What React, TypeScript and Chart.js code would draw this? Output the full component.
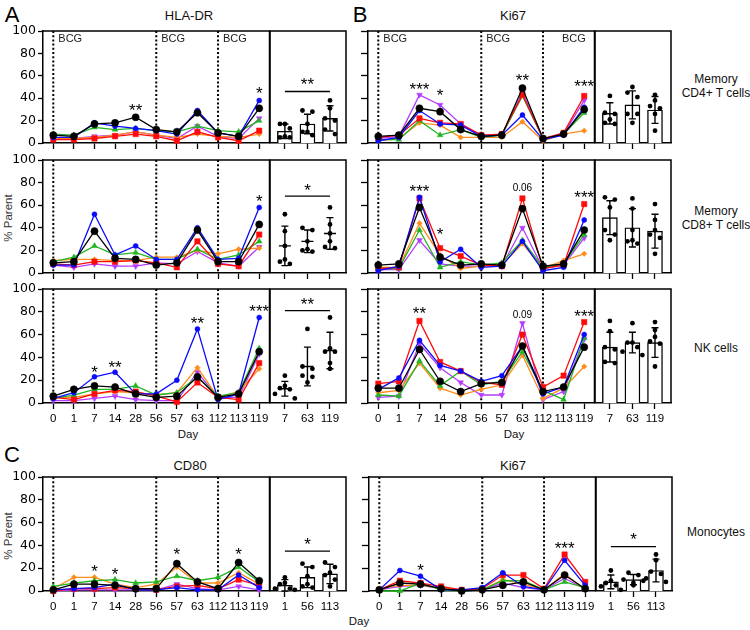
import React, { useEffect, useRef } from "react";
import { Chart, registerables } from "chart.js";
Chart.register(...registerables);

const FONT = '"Liberation Sans", Arial, Helvetica, sans-serif';
Chart.defaults.font.family = FONT;

// ---------- categories ----------
const DAYS = ["0", "1", "7", "14", "28", "56", "57", "63", "112", "113", "119"];
const BAR_DAYS_AB = ["7", "63", "119"];
const BAR_DAYS_C = ["1", "56", "113"];

// subject order in every series table: black, blue, red, green, orange, purple
const SUBJECT_COLORS = ["#000000", "#0A0AFF", "#FF0A0A", "#22B422", "#FF8C1A", "#B43CFF"];
const SUBJECT_SHAPES = ["circle", "circle", "rect", "triangle", "rectRot", "triangle"];
const SUBJECT_RADII = [3.6, 2.5, 3.8, 3.3, 2.7, 3.3];
const SUBJECT_ROT = [0, 0, 0, 0, 0, 180];

// ---------- A: HLA-DR ----------
const hlaCd4: number[][] = [
  [7, 6, 17, 18, 23, 12, 10, 27, 9, 6, 31],
  [5, 5, 18, 15, 13, 11, 8, 29, 9, 6, 38],
  [3, 3, 4, 6, 8, 6, 2, 10, 5, 2, 11],
  [8, 7, 14, 12, 13, 11, 10, 15, 11, 10, 20],
  [4, 4, 5, 7, 10, 7, 5, 8, 6, 5, 8],
  [4, 4, 6, 7, 10, 7, 4, 15, 6, 4, 22],
];
const hlaCd4Stars = [
  { cat: 4, y: 33, text: "**" },
  { cat: 10, y: 48, text: "*" },
];
const hlaCd4Dots = [[17, 17, 13, 6, 5, 5], [29, 28, 17, 10, 10, 7], [38, 31, 22, 20, 12, 8]];
const hlaCd4Mean = [10.5, 17, 22];
const hlaCd4Sd = [6.5, 8.7, 11.3];
const hlaCd4Bracket = { y: 46, text: "**", textY: 56 };

const hlaCd8: number[][] = [
  [9, 10, 37, 13, 12, 7, 9, 38, 10, 10, 43],
  [7, 7, 52, 16, 24, 12, 12, 40, 12, 13, 58],
  [8, 7, 10, 10, 11, 9, 5, 28, 8, 6, 34],
  [10, 14, 24, 16, 18, 12, 12, 21, 12, 16, 28],
  [11, 12, 12, 11, 11, 14, 14, 20, 17, 21, 22],
  [7, 5, 8, 6, 6, 9, 8, 19, 9, 6, 23],
];
const hlaCd8Stars = [{ cat: 10, y: 67, text: "*" }];
const hlaCd8Dots = [[52, 37, 24, 12, 10, 8], [40, 38, 28, 21, 20, 19], [58, 43, 35, 28, 23, 22]];
const hlaCd8Mean = [24, 28, 35];
const hlaCd8Sd = [17.5, 10, 14];
const hlaCd8Bracket = { y: 68, text: "*", textY: 77 };

const hlaNk: number[][] = [
  [6, 12, 15, 14, 8, 5, 6, 23, 5, 8, 45],
  [4, 9, 23, 27, 8, 8, 20, 65, 3, 8, 75],
  [5, 3, 8, 11, 10, 6, 1, 18, 5, 3, 35],
  [4, 7, 12, 12, 15, 7, 9, 23, 6, 9, 48],
  [5, 5, 8, 10, 9, 7, 9, 31, 5, 10, 30],
  [2, 2, 4, 6, 3, 2, 2, 27, 5, 5, 43],
];
const hlaNkStars = [
  { cat: 2, y: 31, text: "*" },
  { cat: 3, y: 35, text: "**" },
  { cat: 7, y: 74, text: "**" },
  { cat: 10, y: 84, text: "***" },
];
const hlaNkDots = [[24, 15, 13, 12, 8, 4], [65, 32, 30, 24, 23, 18], [75, 48, 45, 45, 35, 30]];
const hlaNkMean = [12.5, 32, 46];
const hlaNkSd = [6.5, 17, 16];
const hlaNkBracket = { y: 81, text: "**", textY: 90 };

// ---------- B: Ki67 ----------
const kiCd4: number[][] = [
  [6, 7, 31, 28, 12, 6, 7, 49, 4, 8, 30],
  [2, 5, 29, 17, 16, 6, 7, 25, 3, 7, 32],
  [5, 7, 22, 18, 17, 7, 8, 43, 4, 9, 42],
  [3, 3, 20, 7, 12, 5, 7, 42, 4, 8, 27],
  [2, 4, 18, 16, 5, 5, 5, 19, 2, 8, 11],
  [4, 6, 43, 34, 17, 7, 7, 45, 4, 8, 38],
];
const kiCd4Stars = [
  { cat: 2, y: 52, text: "***" },
  { cat: 3, y: 46, text: "*" },
  { cat: 7, y: 60, text: "**" },
  { cat: 10, y: 54, text: "***" },
];
const kiCd4Dots = [[42, 27, 26, 21, 18, 17], [50, 45, 41, 26, 26, 18], [43, 38, 33, 31, 26, 11]];
const kiCd4Mean = [26.5, 34, 29.5];
const kiCd4Sd = [9.5, 12.5, 12];

const kiCd8: number[][] = [
  [7, 8, 58, 14, 7, 8, 7, 57, 6, 8, 38],
  [2, 6, 67, 10, 21, 5, 6, 28, 2, 5, 47],
  [4, 5, 66, 22, 15, 7, 6, 66, 4, 7, 61],
  [4, 4, 38, 5, 10, 7, 9, 29, 5, 8, 34],
  [5, 5, 44, 16, 4, 6, 7, 26, 4, 11, 17],
  [3, 3, 29, 8, 6, 6, 6, 40, 4, 7, 31],
];
const kiCd8Stars = [
  { cat: 2, y: 76, text: "***" },
  { cat: 3, y: 38, text: "*" },
  { cat: 7, y: 76, text: "0.06" },
  { cat: 10, y: 71, text: "***" },
];
const kiCd8Dots = [[67, 65, 58, 38, 34, 29], [66, 57, 38, 29, 28, 26], [61, 47, 38, 34, 31, 17]];
const kiCd8Mean = [49, 40, 37];
const kiCd8Sd = [15, 17, 15];

const kiNk: number[][] = [
  [13, 13, 47, 19, 10, 17, 18, 50, 10, 14, 49],
  [12, 22, 55, 33, 28, 19, 24, 50, 8, 14, 60],
  [17, 19, 72, 36, 28, 18, 16, 60, 14, 24, 71],
  [7, 6, 37, 15, 28, 16, 19, 45, 11, 3, 57],
  [9, 11, 35, 13, 7, 12, 16, 42, 4, 13, 32],
  [5, 6, 52, 31, 18, 7, 7, 70, 3, 10, 56],
];
const kiNkStars = [
  { cat: 2, y: 82, text: "**" },
  { cat: 7, y: 78, text: "0.09" },
  { cat: 10, y: 80, text: "***" },
];
const kiNkDots = [[72, 63, 49, 47, 36, 35], [70, 53, 53, 49, 45, 42], [71, 64, 58, 54, 52, 32]];
const kiNkMean = [49, 53, 53];
const kiNkSd = [13, 9, 13];

// ---------- C: Monocytes ----------
const cd80Mono: number[][] = [
  [1, 6, 6, 5, 2, 2, 24, 8, 2, 25, 9],
  [1, 2, 3, 6, 1, 1, 3, 1, 1, 14, 3],
  [0, 2, 2, 3, 2, 1, 4, 5, 2, 10, 5],
  [4, 7, 9, 10, 7, 8, 13, 9, 12, 21, 8],
  [2, 12, 12, 6, 3, 6, 21, 7, 7, 16, 6],
  [0, 1, 1, 1, 1, 1, 6, 2, 1, 4, 1],
];
const cd80MonoStars = [
  { cat: 2, y: 21, text: "*" },
  { cat: 3, y: 18, text: "*" },
  { cat: 6, y: 36, text: "*" },
  { cat: 9, y: 36, text: "*" },
];
const cd80MonoDots = [[12, 7, 6, 2, 1, 2], [24, 21, 13, 6, 4, 3], [25, 21, 16, 14, 10, 4]];
const cd80MonoMean = [5, 12, 15];
const cd80MonoSd = [5, 9, 8.5];
const cd80MonoBracket = { y: 35, text: "*", textY: 45 };

const kiMono: number[][] = [
  [1, 7, 6, 2, 0, 1, 5, 8, 1, 14, 2],
  [1, 18, 13, 1, 1, 3, 16, 4, 1, 27, 5],
  [1, 9, 7, 4, 1, 2, 14, 14, 2, 32, 8],
  [0, 0, 7, 1, 0, 1, 9, 9, 1, 8, 3],
  [2, 5, 5, 3, 1, 1, 10, 6, 1, 15, 1],
  [1, 4, 5, 2, 0, 1, 7, 3, 1, 11, 2],
];
const kiMonoStars = [
  { cat: 2, y: 22, text: "*" },
  { cat: 9, y: 41, text: "***" },
];
const kiMonoDots = [[18, 9, 7, 5, 4, 1], [16, 14, 10, 9, 7, 5], [32, 27, 17, 15, 11, 8]];
const kiMonoMean = [8, 10, 18];
const kiMonoSd = [6, 4.5, 10];
const kiMonoBracket = { y: 39, text: "*", textY: 49 };

// dashed BCG marker categories (0, 56, 112)
const BCG_CATS = [0, 5, 8];

// ---------- layout ----------
const LINE_W = 227;
const BAR_W = 76;
const LEFT_X = 43;
const RIGHT_X = 368;
const ROWS = [
  { top: 31, h: 112 },
  { top: 160, h: 113 },
  { top: 289, h: 114 },
  { top: 477, h: 114 },
];

type Star = { cat: number; y: number; text: string };
type Bracket = { y: number; text: string; textY: number };

function drawNote(ctx: CanvasRenderingContext2D, text: string, x: number, yPx: number) {
  const isStar = /^\*+$/.test(text);
  const size = isStar ? 17 : 10;
  ctx.save();
  ctx.font = `${size}px ${FONT}`;
  ctx.fillStyle = "#000";
  ctx.textAlign = "center";
  ctx.textBaseline = "alphabetic";
  ctx.fillText(text, x, yPx + (isStar ? 0.58 : 0.36) * size);
  ctx.restore();
}

function LinePlot(p: {
  left: number;
  row: { top: number; h: number };
  series: number[][];
  stars: Star[];
  xLabels: boolean;
  yLabels: boolean;
  bcg?: number[];
}) {
  const ref = useRef<HTMLCanvasElement>(null);
  const tickY = p.yLabels ? 5 : 7;
  const Lw = p.yLabels ? 38 : 9;
  const Bh = p.xLabels ? 24 : 10;
  const padL = 2, padT = 14, padR = 4, padB = 2;
  const W = padL + Lw + LINE_W + padR;
  const H = padT + p.row.h + Bh + padB;
  useEffect(() => {
    const extras = {
      id: "extras",
      beforeDatasetsDraw(chart: any) {
        const { ctx, chartArea: a, scales } = chart;
        ctx.save();
        ctx.strokeStyle = "#000";
        ctx.lineWidth = 2;
        ctx.setLineDash([2, 2.2]);
        BCG_CATS.forEach((c) => {
          const x = scales.x.getPixelForValue(c);
          ctx.beginPath();
          ctx.moveTo(x, a.top);
          ctx.lineTo(x, a.bottom);
          ctx.stroke();
        });
        ctx.restore();
      },
      afterDraw(chart: any) {
        const { ctx, chartArea: a, scales } = chart;
        ctx.save();
        ctx.strokeStyle = "#000";
        ctx.lineWidth = 1.5;
        ctx.beginPath();
        ctx.moveTo(a.left, a.top);
        ctx.lineTo(a.right, a.top);
        ctx.lineTo(a.right, a.bottom);
        ctx.stroke();
        if (p.bcg) {
          ctx.font = `11px ${FONT}`;
          ctx.fillStyle = "#222";
          ctx.textAlign = "left";
          ctx.textBaseline = "middle";
          BCG_CATS.forEach((c, i) => {
            const x = scales.x.getPixelForValue(c);
            ctx.fillText("BCG", x + p.bcg![i], a.top + 8);
          });
        }
        ctx.restore();
        p.stars.forEach((s) => drawNote(ctx, s.text, scales.x.getPixelForValue(s.cat), scales.y.getPixelForValue(s.y)));
      },
    };
    const chart = new Chart(ref.current!, {
      type: "line",
      data: {
        labels: DAYS,
        datasets: p.series.map((vals, i) => ({
          data: vals,
          borderColor: SUBJECT_COLORS[i],
          backgroundColor: SUBJECT_COLORS[i],
          borderWidth: 1.3,
          pointStyle: SUBJECT_SHAPES[i] as any,
          pointRadius: SUBJECT_RADII[i],
          pointRotation: SUBJECT_ROT[i],
          pointBorderWidth: 0.5,
          tension: 0,
          clip: false as any,
        })),
      },
      options: {
        responsive: false,
        animation: false,
        events: [],
        layout: { padding: { left: padL, top: padT, right: padR, bottom: padB } },
        plugins: { legend: { display: false }, tooltip: { enabled: false } },
        scales: {
          x: {
            type: "category",
            offset: true,
            grid: { display: true, offset: false, drawOnChartArea: false, drawTicks: true, tickLength: 6, tickColor: "#000", tickWidth: 1.3 },
            border: { display: true, color: "#000", width: 1.5 },
            ticks: { display: p.xLabels, color: "#000", font: { size: 11.5, family: FONT }, maxRotation: 0, autoSkip: false, padding: 3 },
            afterFit: (s: any) => { s.height = Bh; },
          },
          y: {
            min: 0,
            max: 100,
            grid: { display: true, drawOnChartArea: false, drawTicks: true, tickLength: tickY, tickColor: "#000", tickWidth: 1.3 },
            border: { display: true, color: "#000", width: 1.5 },
            ticks: { display: p.yLabels, stepSize: 20, color: "#000", font: { size: 12.5, family: '"DejaVu Sans", sans-serif' }, padding: 2 },
            afterFit: (s: any) => { s.width = Lw; },
          },
        },
      },
      plugins: [extras],
    });
    return () => chart.destroy();
  }, []);
  return (
    <canvas
      ref={ref}
      width={W}
      height={H}
      style={{ position: "absolute", left: p.left - Lw - padL, top: p.row.top - padT, width: W, height: H }}
    />
  );
}

function swarm(vals: number[], gap: number): number[] {
  const order = vals.map((_, i) => i).sort((a, b) => vals[b] - vals[a]);
  const offs = new Array(vals.length).fill(0);
  let group: number[] = [];
  const flush = () => {
    const n = group.length;
    const pattern = n % 2 === 1 ? [0, -1, 1, -2, 2] : [-1, 1, -2, 2];
    group.forEach((idx, k) => { offs[idx] = pattern[k] ?? 0; });
    group = [];
  };
  order.forEach((idx, k) => {
    if (k > 0 && vals[order[k - 1]] - vals[idx] >= gap) flush();
    group.push(idx);
  });
  flush();
  return offs;
}

function BarPlot(p: {
  left: number;
  row: { top: number; h: number };
  labels: string[];
  dots: number[][];
  means: number[];
  sds: number[];
  bars: boolean;
  xLabels: boolean;
  bracket?: Bracket;
}) {
  const ref = useRef<HTMLCanvasElement>(null);
  const Bh = p.xLabels ? 24 : 10;
  const padL = 4, padT = 14, padR = 4, padB = 2;
  const W = padL + BAR_W + padR;
  const H = padT + p.row.h + Bh + padB;
  useEffect(() => {
    const points: { x: number; y: number }[] = [];
    p.dots.forEach((vals, c) => {
      const offs = swarm(vals, 4.5);
      vals.forEach((v, k) => points.push({ x: c + offs[k] * 0.22, y: v }));
    });
    const extras = {
      id: "extras",
      afterDraw(chart: any) {
        const { ctx, chartArea: a, scales } = chart;
        ctx.save();
        ctx.strokeStyle = "#000";
        ctx.lineWidth = 1.5;
        ctx.beginPath();
        ctx.moveTo(a.left, a.bottom);
        ctx.lineTo(a.left, a.top);
        ctx.lineTo(a.right, a.top);
        ctx.lineTo(a.right, a.bottom);
        ctx.stroke();
        ctx.lineWidth = 1.4;
        p.means.forEach((m, i) => {
          const x = scales.x.getPixelForValue(i);
          const yt = scales.y.getPixelForValue(m + p.sds[i]);
          const yb = scales.y.getPixelForValue(Math.max(0, m - p.sds[i]));
          const ym = scales.y.getPixelForValue(m);
          const cap = 3.5;
          ctx.beginPath();
          ctx.moveTo(x, yt);
          ctx.lineTo(x, yb);
          ctx.moveTo(x - cap, yt);
          ctx.lineTo(x + cap, yt);
          ctx.moveTo(x - cap, yb);
          ctx.lineTo(x + cap, yb);
          if (!p.bars) {
            ctx.moveTo(x - 6, ym);
            ctx.lineTo(x + 6, ym);
          }
          ctx.stroke();
        });
        if (p.bracket) {
          const yb = scales.y.getPixelForValue(p.bracket.y);
          ctx.lineWidth = 1.3;
          ctx.beginPath();
          ctx.moveTo(scales.x.getPixelForValue(0), yb);
          ctx.lineTo(scales.x.getPixelForValue(2), yb);
          ctx.stroke();
        }
        ctx.restore();
        if (p.bracket) {
          drawNote(ctx, p.bracket.text, scales.x.getPixelForValue(1), scales.y.getPixelForValue(p.bracket.textY));
        }
      },
    };
    const datasets: any[] = [
      {
        type: "scatter",
        data: points,
        pointRadius: 2.4,
        backgroundColor: "#000",
        borderColor: "#000",
        borderWidth: 0,
        order: 0,
        clip: false,
      },
    ];
    if (p.bars) {
      datasets.push({
        type: "bar",
        data: p.means.map((m, i) => ({ x: i, y: m })),
        backgroundColor: "#fff",
        borderColor: "#000",
        borderWidth: 1.4,
        barThickness: 15,
        order: 1,
      });
    }
    const chart = new Chart(ref.current!, {
      type: "bar",
      data: { datasets },
      options: {
        responsive: false,
        animation: false,
        events: [],
        layout: { padding: { left: padL, top: padT, right: padR, bottom: padB } },
        plugins: { legend: { display: false }, tooltip: { enabled: false } },
        scales: {
          x: {
            type: "linear",
            offset: false,
            min: -0.66,
            max: 2.71,
            afterBuildTicks: (s: any) => { s.ticks = [0, 1, 2].map((v) => ({ value: v })); },
            grid: { display: true, offset: false, drawOnChartArea: false, drawTicks: true, tickLength: 6, tickColor: "#000", tickWidth: 1.3 },
            border: { display: true, color: "#000", width: 1.5 },
            ticks: {
              display: p.xLabels,
              color: "#000",
              font: { size: 11.5, family: FONT },
              maxRotation: 0,
              autoSkip: false,
              padding: 3,
              callback: (v: any) => p.labels[v as number],
            },
            afterFit: (s: any) => { s.height = Bh; },
          },
          y: { display: false, min: 0, max: 100 },
        },
      },
      plugins: [extras],
    });
    return () => chart.destroy();
  }, []);
  return (
    <canvas
      ref={ref}
      width={W}
      height={H}
      style={{ position: "absolute", left: p.left - padL, top: p.row.top - padT, width: W, height: H }}
    />
  );
}

function Txt(p: { x: number; y: number; size: number; children: React.ReactNode; rotate?: boolean; color?: string }) {
  return (
    <div
      style={{
        position: "absolute",
        left: p.x,
        top: p.y,
        transform: `translate(-50%, -50%)${p.rotate ? " rotate(-90deg)" : ""}`,
        fontSize: p.size,
        fontFamily: FONT,
        color: p.color ?? "#111",
        whiteSpace: "nowrap",
        textAlign: "center",
        lineHeight: 1.15,
      }}
    >
      {p.children}
    </div>
  );
}

export default function App() {
  const LB = LEFT_X + LINE_W;
  const RB = RIGHT_X + LINE_W;
  return (
    <div style={{ position: "absolute", left: 0, top: 0, width: 750, height: 630, background: "#fff", overflow: "hidden" }}>
      {/* panel letters and titles */}
      <Txt x={12} y={15} size={22} color="#000">A</Txt>
      <Txt x={360} y={15} size={22} color="#000">B</Txt>
      <Txt x={12} y={455} size={22} color="#000">C</Txt>
      <Txt x={189} y={16} size={13}>HLA-DR</Txt>
      <Txt x={513} y={16} size={13}>Ki67</Txt>
      <Txt x={190} y={466} size={13}>CD80</Txt>
      <Txt x={513} y={466} size={13}>Ki67</Txt>

      {/* row labels */}
      <Txt x={716} y={87} size={12}>Memory<br />CD4+ T cells</Txt>
      <Txt x={716} y={219} size={12}>Memory<br />CD8+ T cells</Txt>
      <Txt x={716} y={349} size={12}>NK cells</Txt>
      <Txt x={716} y={533} size={12}>Monocytes</Txt>

      <Txt x={9} y={218} size={11.5} rotate color="#333">% Parent</Txt>
      <Txt x={9} y={536} size={11.5} rotate color="#333">% Parent</Txt>
      <Txt x={188} y={435} size={11.5}>Day</Txt>
      <Txt x={514} y={435} size={11.5}>Day</Txt>
      <Txt x={359} y={622} size={11.5}>Day</Txt>

      {/* A */}
      <LinePlot left={LEFT_X} row={ROWS[0]} series={hlaCd4} stars={hlaCd4Stars} xLabels={false} yLabels bcg={[5, 5, 5]} />
      <BarPlot left={LB} row={ROWS[0]} labels={BAR_DAYS_AB} dots={hlaCd4Dots} means={hlaCd4Mean} sds={hlaCd4Sd} bars xLabels={false} bracket={hlaCd4Bracket} />
      <LinePlot left={LEFT_X} row={ROWS[1]} series={hlaCd8} stars={hlaCd8Stars} xLabels={false} yLabels />
      <BarPlot left={LB} row={ROWS[1]} labels={BAR_DAYS_AB} dots={hlaCd8Dots} means={hlaCd8Mean} sds={hlaCd8Sd} bars={false} xLabels={false} bracket={hlaCd8Bracket} />
      <LinePlot left={LEFT_X} row={ROWS[2]} series={hlaNk} stars={hlaNkStars} xLabels yLabels />
      <BarPlot left={LB} row={ROWS[2]} labels={BAR_DAYS_AB} dots={hlaNkDots} means={hlaNkMean} sds={hlaNkSd} bars={false} xLabels bracket={hlaNkBracket} />

      {/* B */}
      <LinePlot left={RIGHT_X} row={ROWS[0]} series={kiCd4} stars={kiCd4Stars} xLabels={false} yLabels={false} bcg={[5, 5, 19]} />
      <BarPlot left={RB} row={ROWS[0]} labels={BAR_DAYS_AB} dots={kiCd4Dots} means={kiCd4Mean} sds={kiCd4Sd} bars xLabels={false} />
      <LinePlot left={RIGHT_X} row={ROWS[1]} series={kiCd8} stars={kiCd8Stars} xLabels={false} yLabels={false} />
      <BarPlot left={RB} row={ROWS[1]} labels={BAR_DAYS_AB} dots={kiCd8Dots} means={kiCd8Mean} sds={kiCd8Sd} bars xLabels={false} />
      <LinePlot left={RIGHT_X} row={ROWS[2]} series={kiNk} stars={kiNkStars} xLabels yLabels={false} />
      <BarPlot left={RB} row={ROWS[2]} labels={BAR_DAYS_AB} dots={kiNkDots} means={kiNkMean} sds={kiNkSd} bars xLabels />

      {/* C */}
      <LinePlot left={LEFT_X} row={ROWS[3]} series={cd80Mono} stars={cd80MonoStars} xLabels yLabels />
      <BarPlot left={LB} row={ROWS[3]} labels={BAR_DAYS_C} dots={cd80MonoDots} means={cd80MonoMean} sds={cd80MonoSd} bars xLabels bracket={cd80MonoBracket} />
      <LinePlot left={RIGHT_X + 1} row={ROWS[3]} series={kiMono} stars={kiMonoStars} xLabels yLabels={false} />
      <BarPlot left={RB + 1} row={ROWS[3]} labels={BAR_DAYS_C} dots={kiMonoDots} means={kiMonoMean} sds={kiMonoSd} bars xLabels bracket={kiMonoBracket} />
    </div>
  );
}
